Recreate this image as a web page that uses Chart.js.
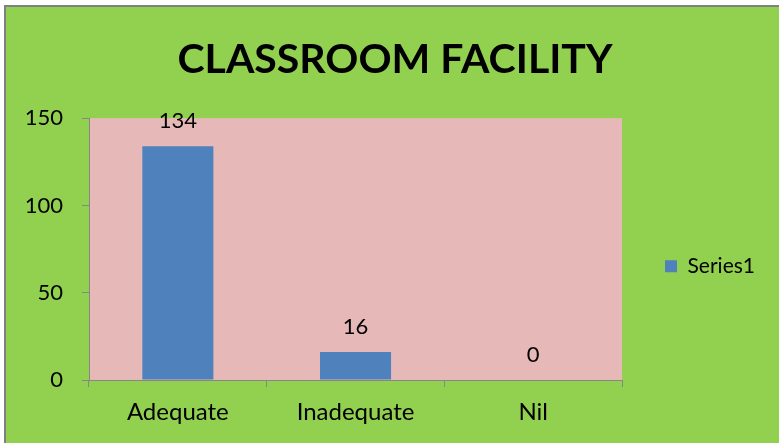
<!DOCTYPE html>
<html>
<head>
<meta charset="utf-8">
<script src="https://cdn.jsdelivr.net/npm/chart.js@4/dist/chart.umd.min.js"></script>
<style>
  html, body { margin: 0; padding: 0; background: #ffffff; }
  #frame {
    position: absolute;
    left: 4px;
    top: 5px;
    width: 775px;
    height: 438px;
    border-left: 2px solid #808080;
    border-top: 2px solid #808080;
    background: #92d050;
  }
  #chart { display: block; }
</style>
</head>
<body>
<div id="frame">
  <canvas id="chart" width="773" height="436"></canvas>
</div>
<script>
// Chart data
const categories = ["Adequate", "Inadequate", "Nil"];
const series1 = [134, 16, 0];
const yTicks = [0, 50, 100, 150];

const FONT = "Lato";

// pink plot area
const plotBackground = {
  id: "plotBackground",
  beforeDraw(chart) {
    const { ctx, chartArea } = chart;
    ctx.save();
    ctx.fillStyle = "#e6b9b8";
    ctx.fillRect(chartArea.left, chartArea.top, chartArea.right - chartArea.left, chartArea.bottom - chartArea.top);
    ctx.restore();
  },
};

// value labels above the bars
const barValues = {
  id: "barValues",
  afterDatasetsDraw(chart) {
    const { ctx } = chart;
    const meta = chart.getDatasetMeta(0);
    ctx.save();
    ctx.font = "22px " + FONT;
    ctx.fillStyle = "#000000";
    ctx.textAlign = "center";
    ctx.textBaseline = "alphabetic";
    meta.data.forEach((bar, i) => {
      ctx.fillText(String(series1[i]), bar.x, bar.y - 18);
    });
    ctx.restore();
  },
};

const ctx = document.getElementById("chart").getContext("2d");
const classroomChart = new Chart(ctx, {
  type: "bar",
  data: {
    labels: categories,
    datasets: [
      {
        label: "Series1",
        data: series1,
        backgroundColor: "#4f81bd",
        barPercentage: 0.4,
        categoryPercentage: 1,
      },
    ],
  },
  options: {
    responsive: false,
    animation: false,
    layout: {
      padding: { left: 19, right: 14, top: 0, bottom: 0 },
    },
    plugins: {
      title: {
        display: true,
        text: "CLASSROOM FACILITY",
        color: "#000000",
        font: { family: FONT, size: 41, weight: "bold" },
        padding: { top: 28, bottom: 34 },
      },
      legend: {
        position: "right",
        fullSize: false,
        title: {
          display: true,
          text: " ",
          font: { family: FONT, size: 12 },
          padding: { top: 10, bottom: 10 },
        },
        labels: {
          boxWidth: 12,
          boxHeight: 12,
          padding: 43,
          color: "#000000",
          font: { family: FONT, size: 21 },
        },
      },
      tooltip: { enabled: false },
    },
    scales: {
      x: {
        offset: true,
        afterFit(scale) {
          scale.height = 63;
        },
        grid: {
          offset: true,
          drawOnChartArea: false,
          tickLength: 7,
          color: "#868686",
        },
        border: { color: "#868686", width: 1 },
        ticks: {
          color: "#000000",
          padding: 11,
          font: { family: FONT, size: 24 },
        },
      },
      y: {
        min: 0,
        max: 150,
        afterFit(scale) {
          scale.width = 64;
        },
        afterBuildTicks(scale) {
          scale.ticks = yTicks.map((v) => ({ value: v }));
        },
        grid: {
          drawOnChartArea: false,
          tickLength: 7,
          color: "#868686",
        },
        border: { color: "#868686", width: 1 },
        ticks: {
          color: "#000000",
          padding: 19,
          font: { family: FONT, size: 22 },
        },
      },
    },
  },
  plugins: [plotBackground, barValues],
});
</script>
</body>
</html>
